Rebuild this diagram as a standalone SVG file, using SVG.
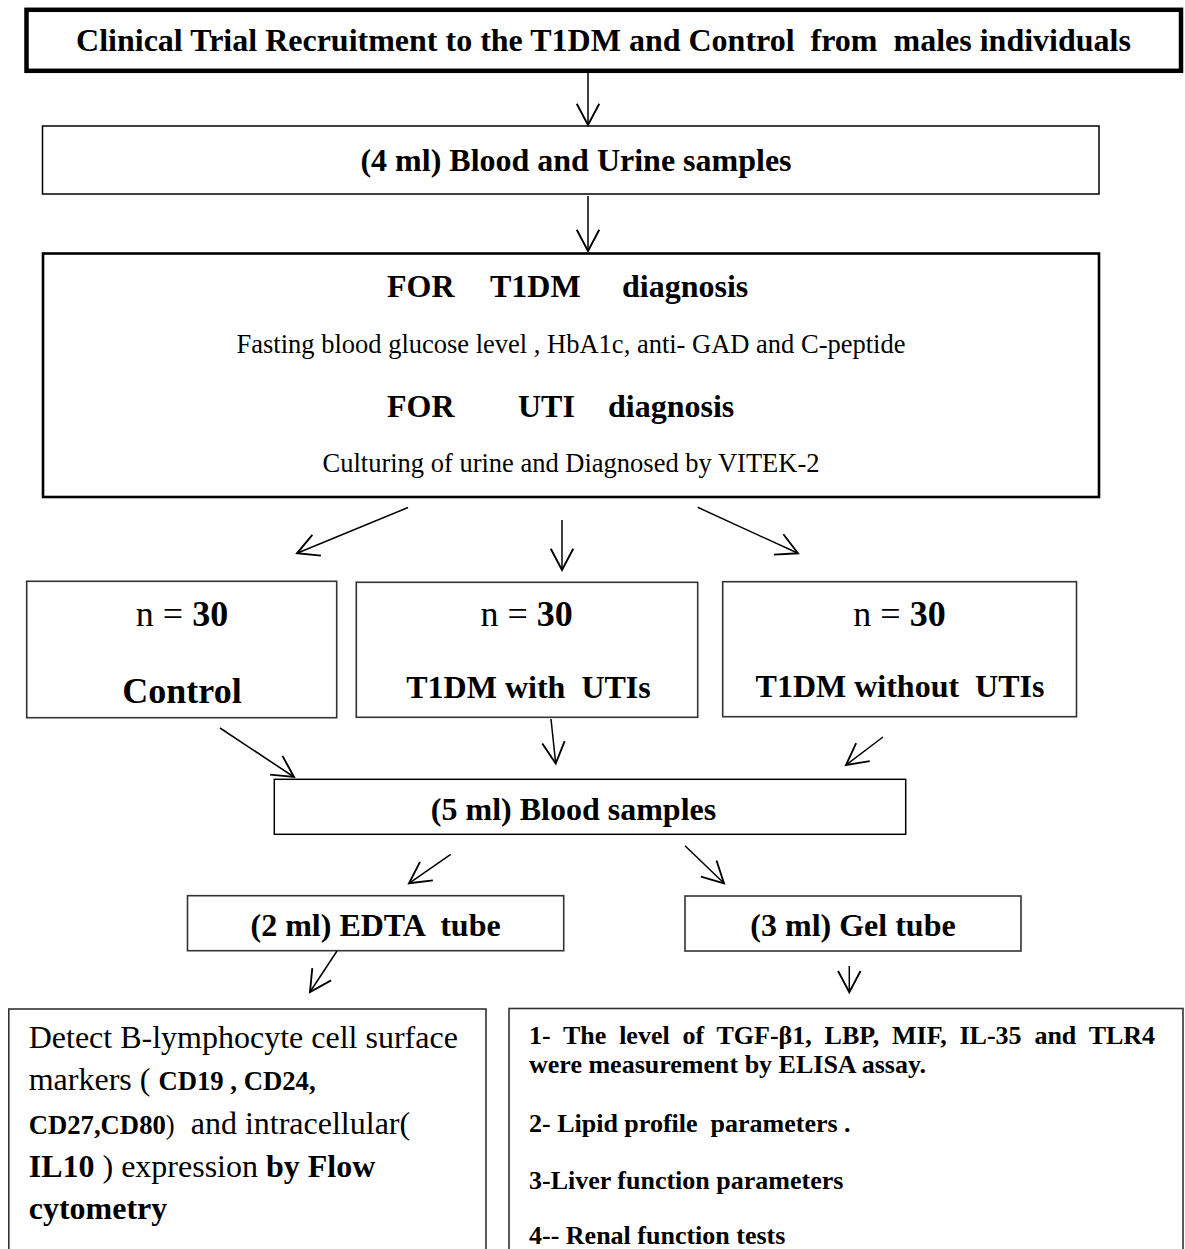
<svg xmlns="http://www.w3.org/2000/svg" width="1185" height="1249" viewBox="0 0 1185 1249">
<defs>
<style>
text{font-family:"Liberation Serif","Times New Roman",serif;fill:#000}
.b{font-weight:bold}
.box{fill:#fff;stroke:#000;stroke-width:1.5}
.gbox{fill:#fff;stroke:#333;stroke-width:1.6}
.con line{stroke:#000;stroke-width:1.5;marker-end:url(#ah)}
</style>
<marker id="ah" markerUnits="userSpaceOnUse" markerWidth="30" markerHeight="30" viewBox="-20 -12 24 24" refX="0" refY="0" orient="auto" overflow="visible">
<path d="M-17,-9 L0,0 L-17,9" fill="none" stroke="#000" stroke-width="1.5"/>
</marker>
</defs>
<rect width="1185" height="1249" fill="#fff"/>

<g id="recruit">
<rect x="26.5" y="9.8" width="1154.5" height="61" fill="#fff" stroke="#000" stroke-width="4.5"/>
<text class="b" x="603.5" y="50.5" font-size="32" text-anchor="middle" xml:space="preserve">Clinical Trial Recruitment to the T1DM and Control  from  males individuals</text>
</g>

<g id="samples1">
<rect class="box" x="42.5" y="126" width="1056.5" height="68"/>
<text class="b" x="576" y="170.5" font-size="32" text-anchor="middle">(4 ml) Blood and Urine samples</text>
</g>

<g id="diagnosis">
<rect x="43" y="253.5" width="1056" height="243.5" fill="#fff" stroke="#000" stroke-width="2.6"/>
<text class="b" y="297" font-size="32"><tspan x="387">FOR</tspan><tspan x="490">T1DM</tspan><tspan x="622">diagnosis</tspan></text>
<text x="571" y="352.7" font-size="26.5" text-anchor="middle">Fasting blood glucose level , HbA1c, anti- GAD and C-peptide</text>
<text class="b" y="417" font-size="32"><tspan x="387">FOR</tspan><tspan x="518">UTI</tspan><tspan x="608">diagnosis</tspan></text>
<text x="571" y="472" font-size="26.5" text-anchor="middle">Culturing of urine and Diagnosed by VITEK-2</text>
</g>

<g id="control">
<rect class="gbox" x="26.7" y="581.3" width="310" height="136.4"/>
<text x="182" y="625.7" font-size="36" text-anchor="middle">n = <tspan class="b">30</tspan></text>
<text class="b" x="182" y="702.7" font-size="36" text-anchor="middle">Control</text>
</g>

<g id="t1dm-uti">
<rect class="gbox" x="356.3" y="582.3" width="341.4" height="135"/>
<text x="526.6" y="625.7" font-size="36" text-anchor="middle">n = <tspan class="b">30</tspan></text>
<text class="b" x="528.5" y="698" font-size="32" text-anchor="middle" xml:space="preserve">T1DM with  UTIs</text>
</g>

<g id="t1dm-nouti">
<rect class="gbox" x="722.7" y="581.7" width="353.8" height="135"/>
<text x="899.5" y="625.7" font-size="36" text-anchor="middle">n = <tspan class="b">30</tspan></text>
<text class="b" x="900" y="697" font-size="32" text-anchor="middle" xml:space="preserve">T1DM without  UTIs</text>
</g>

<g id="blood5">
<rect class="box" x="274.3" y="779.3" width="631.4" height="55"/>
<text class="b" x="573.5" y="819.5" font-size="32" text-anchor="middle">(5 ml) Blood samples</text>
</g>

<g id="edta">
<rect class="gbox" x="187.5" y="895.7" width="376.2" height="55"/>
<text class="b" x="375.6" y="935.5" font-size="32" text-anchor="middle" xml:space="preserve">(2 ml) EDTA  tube</text>
</g>

<g id="gel">
<rect class="gbox" x="685" y="896" width="336" height="55"/>
<text class="b" x="853" y="936" font-size="32" text-anchor="middle">(3 ml) Gel tube</text>
</g>

<g id="flow">
<rect class="gbox" x="8.8" y="1009" width="477.2" height="260"/>
<text x="28.7" y="1048" font-size="32">Detect B-lymphocyte cell surface</text>
<text x="28.7" y="1090" font-size="32" xml:space="preserve">markers ( <tspan class="b" font-size="26.7">CD19 , CD24,</tspan></text>
<text x="28.7" y="1134" font-size="32" xml:space="preserve"><tspan class="b" font-size="26.7">CD27,CD80</tspan><tspan font-size="26.7">)</tspan>  and intracellular(</text>
<text x="28.7" y="1177" font-size="32" xml:space="preserve"><tspan class="b">IL10</tspan> ) expression <tspan class="b">by Flow</tspan></text>
<text class="b" x="28.7" y="1219" font-size="32">cytometry</text>
</g>

<g id="elisa">
<rect class="gbox" x="509" y="1008.5" width="674" height="260"/>
<text class="b" x="529" y="1044" font-size="26" word-spacing="6.3">1- The level of TGF-β1, LBP, MIF, IL-35 and TLR4</text>
<text class="b" x="529" y="1073" font-size="26">were measurement by ELISA assay.</text>
<text class="b" x="529" y="1132" font-size="26" xml:space="preserve">2- Lipid profile  parameters .</text>
<text class="b" x="529" y="1189" font-size="26">3-Liver function parameters</text>
<text class="b" x="529" y="1244" font-size="26">4-- Renal function tests</text>
</g>

<g id="connectors" class="con">
<line x1="588" y1="73" x2="588" y2="125"/>
<line x1="588" y1="196" x2="588" y2="251"/>
<line x1="408" y1="507.5" x2="297" y2="553.3"/>
<line x1="562" y1="520" x2="562" y2="570"/>
<line x1="697.7" y1="507.3" x2="798" y2="553.3"/>
<line x1="220" y1="728" x2="294" y2="777"/>
<line x1="551" y1="719" x2="555.7" y2="763.5"/>
<line x1="883" y1="737" x2="846" y2="765"/>
<line x1="450.7" y1="854.3" x2="409" y2="883.3"/>
<line x1="685" y1="845.7" x2="724" y2="883.3"/>
<line x1="337" y1="951" x2="310" y2="992"/>
<line x1="849.3" y1="966" x2="849.3" y2="992.3"/>
</g>
</svg>
